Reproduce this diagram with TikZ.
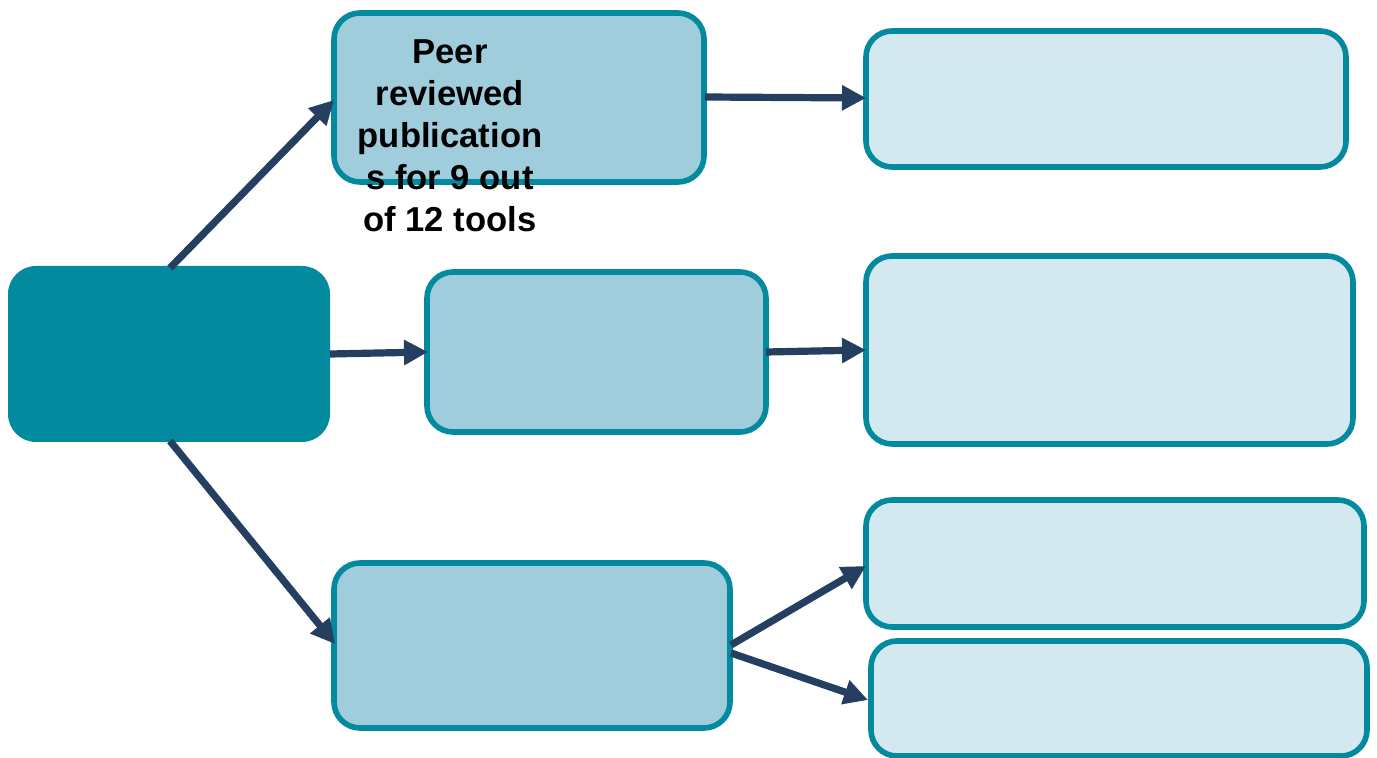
\documentclass[tikz,border=0pt]{standalone}
\usepackage{fontspec}
\setmainfont{Liberation Sans}
\usetikzlibrary{arrows.meta}
\definecolor{rootteal}{HTML}{048A9E}
\definecolor{midfill}{HTML}{9FCDDC}
\definecolor{lightfill}{HTML}{D4E8EF}
\definecolor{navy}{HTML}{243F60}
\begin{document}
\begin{tikzpicture}[x=0.5pt,y=-0.5pt,
  rootbox/.style={fill=rootteal, rounded corners=14pt},
  midbox/.style={draw=rootteal, fill=midfill, line width=2.8pt, rounded corners=13pt},
  rightbox/.style={draw=rootteal, fill=lightfill, line width=2.8pt, rounded corners=13pt},
  conn/.style={draw=navy, line width=3.6pt, -{Triangle[length=12pt,width=12pt]}}]
\useasboundingbox (0,0) rectangle (1377,758);
% boxes
\fill[rootbox] (8,266) rectangle (330,442);
\coordinate (rootT) at (170,268);
\coordinate (rootR) at (330,354);
\coordinate (rootB) at (170,441);
\draw[midbox] (334,13) rectangle (704,182);
\draw[midbox] (427,272) rectangle (766,432);
\draw[midbox] (334,563) rectangle (730,728);
\draw[rightbox] (866,31) rectangle (1346,167);
\draw[rightbox] (866,256) rectangle (1353,444);
\draw[rightbox] (866,500) rectangle (1364,627);
\draw[rightbox] (871,641) rectangle (1367,756);
% connector end points
\coordinate (m1L) at (334,100);
\coordinate (m1R) at (705,97);
\coordinate (m2L) at (428,352);
\coordinate (m2R) at (766,352);
\coordinate (m3L) at (335,644);
\coordinate (m3Ra) at (731,645);
\coordinate (m3Rb) at (731,653);
\coordinate (r1L) at (866,98);
\coordinate (r2L) at (866,350);
\coordinate (r3L) at (866,566);
\coordinate (r4L) at (868,700);
\draw[conn] (rootT) -- (m1L);
\draw[conn] (rootR) -- (m2L);
\draw[conn] (rootB) -- (m3L);
\draw[conn] (m1R) -- (r1L);
\draw[conn] (m2R) -- (r2L);
\draw[conn] (m3Ra) -- (r3L);
\draw[conn] (m3Rb) -- (r4L);
% label
\node[font=\fontsize{17.3pt}{21pt}\selectfont\bfseries, align=center, inner sep=0pt] (lbl) at (450,136)
  {Peer\\reviewed\\publication\\s for 9 out\\of 12 tools};
\end{tikzpicture}
\end{document}
